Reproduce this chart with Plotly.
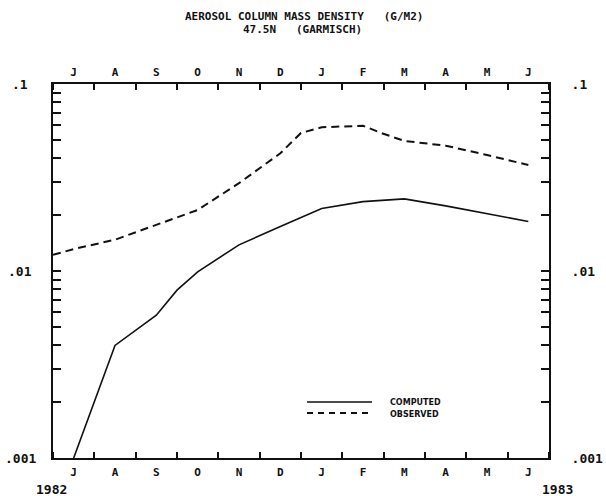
import math
import plotly.graph_objects as go

# Month labels (July 1982 .. June 1983), one per month centre
months = ["J", "A", "S", "O", "N", "D", "J", "F", "M", "A", "M", "J"]

# Computed aerosol column mass density (g/m2)
computed_x = [0, 1, 2, 2.5, 3, 4, 5, 6, 7, 8, 9, 10, 11]
computed_y = [0.001, 0.0040, 0.0058, 0.0079, 0.0099, 0.0138, 0.0173, 0.0216,
              0.0235, 0.0243, 0.0223, 0.0203, 0.0184]

# Observed aerosol column mass density (g/m2)
observed_x = [-0.5, 0, 1, 2, 3, 4, 5, 5.5, 6, 7, 7.45, 8, 9, 10, 11]
observed_y = [0.0122, 0.0131, 0.0147, 0.0176, 0.0212, 0.0295, 0.0426, 0.0547,
              0.0587, 0.0598, 0.0546, 0.0496, 0.0468, 0.0417, 0.0369]

# Log-axis tick values and their labels
y_tickvals = [0.001, 0.002, 0.003, 0.004, 0.005, 0.006, 0.007, 0.008, 0.009,
              0.01, 0.02, 0.03, 0.04, 0.05, 0.06, 0.07, 0.08, 0.09, 0.1]
y_labels = {0.001: ".001", 0.01: ".01", 0.1: ".1"}
y_ticktext = [y_labels.get(v, "") for v in y_tickvals]

# Years under the first and last month
years = ["1982", "1983"]

FONT = "DejaVu Sans Mono"
INK = "#111111"
W, H = 606, 496
L, R, T, B = 53, 57, 84, 38
PW, PH = W - L - R, H - T - B


def px_x(x):
    return (x - L) / PW


def px_y(y):
    return (H - B - y) / PH


fig = go.Figure()
fig.add_trace(go.Scatter(x=computed_x, y=computed_y, mode="lines",
                         line=dict(color=INK, width=1.6), name="COMPUTED",
                         showlegend=False))
fig.add_trace(go.Scatter(x=observed_x, y=observed_y, mode="lines",
                         line=dict(color=INK, width=2, dash="8px,5px"),
                         name="OBSERVED", showlegend=False))
# invisible trace to activate the mirrored axes
fig.add_trace(go.Scatter(x=[0], y=[0.01], xaxis="x2", yaxis="y2",
                         mode="markers", marker=dict(opacity=0),
                         showlegend=False, hoverinfo="skip"))

xcommon = dict(range=[-0.5, 11.5], tickvals=list(range(12)), ticktext=months,
               ticks="", showgrid=False, zeroline=False, showline=True,
               linecolor=INK, linewidth=2, automargin=False,
               tickfont=dict(family=FONT, size=11, color=INK, weight="bold"),
               minor=dict(tick0=0.5, dtick=1, ticks="inside", ticklen=6,
                          tickcolor=INK, tickwidth=1.5, showgrid=False))
ycommon = dict(type="log", range=[-3, -1], tickvals=y_tickvals,
               ticks="inside", ticklen=8, tickcolor=INK, tickwidth=1.5,
               showgrid=False, zeroline=False, showline=True, linecolor=INK,
               linewidth=2, automargin=False,
               tickfont=dict(family=FONT, size=13, color=INK, weight="bold"))

title_font = dict(family=FONT, size=11, color=INK, weight="bold")
annotations = [
    dict(text="AEROSOL COLUMN MASS DENSITY   (G/M2)", x=px_x(304),
         y=px_y(16.5), font=title_font),
    dict(text="47.5N   (GARMISCH)", x=px_x(302), y=px_y(29),
         font=title_font),
    dict(text="COMPUTED", x=px_x(388), y=px_y(402), xanchor="left",
         font=dict(family="DejaVu Sans", size=8, color=INK, weight="bold")),
    dict(text="OBSERVED", x=px_x(388), y=px_y(414), xanchor="left",
         font=dict(family="DejaVu Sans", size=8, color=INK, weight="bold")),
]
for yr, xp in zip(years, [51, 557]):
    annotations.append(dict(text=yr, x=px_x(xp), y=px_y(490),
                            font=dict(family=FONT, size=13, color=INK,
                                      weight="bold")))
# left-hand decade labels, centred in the left margin
for v in y_tickvals:
    if y_labels.get(v):
        annotations.append(dict(text=y_labels[v], x=px_x(20), xref="paper",
                                y=math.log10(v), yref="y",
                                font=dict(family=FONT, size=13, color=INK,
                                          weight="bold")))
for a in annotations:
    a.setdefault("xref", "paper")
    a.setdefault("yref", "paper")
    a.setdefault("xanchor", "center")
    a["yanchor"] = "middle"
    a["showarrow"] = False

fig.update_layout(
    width=W, height=H,
    margin=dict(l=L, r=R, t=T, b=B),
    paper_bgcolor="white", plot_bgcolor="white",
    xaxis=dict(**xcommon, side="bottom", ticklabelstandoff=3),
    xaxis2=dict(**xcommon, side="top", overlaying="x", matches="x",
                ticklabelstandoff=2),
    yaxis=dict(**ycommon, side="left", ticktext=[""] * len(y_tickvals)),
    yaxis2=dict(**ycommon, side="right", overlaying="y", matches="y",
                ticktext=y_ticktext, ticklabelstandoff=18),
    annotations=annotations,
)

# legend keys
for ypx, dash, w in [(402, "solid", 1.6), (413, "6px,5px", 2)]:
    fig.add_shape(type="line", xref="paper", yref="paper",
                  x0=px_x(307), x1=px_x(372), y0=px_y(ypx), y1=px_y(ypx),
                  line=dict(color=INK, width=w, dash=dash))

fig.write_html("out.html")
